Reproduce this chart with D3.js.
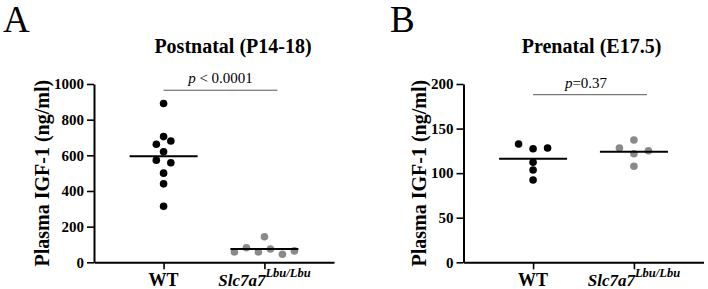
<!DOCTYPE html>
<html>
<head>
<meta charset="utf-8">
<script src="https://cdn.jsdelivr.net/npm/d3@7"></script>
<style>
  body { margin: 0; background: #fff; }
</style>
</head>
<body>
<div id="chart"></div>
<script>
// values (ng/ml)
var groups = ["WT", "Slc7a7"];
var wtPost = [891, 705, 573, 662, 680, 620, 558, 500, 440, 314];
var mutPost = [58, 82, 58, 143, 75, 45, 64];
var wtPre = [132.7, 127.4, 128.2, 112.2, 103.5, 92.3];
var mutPre = [128.2, 137.2, 121.8, 125.2, 107.7];
var postTicks = [0, 200, 400, 600, 800, 1000];
var preTicks = [0, 50, 100, 150, 200];
var pValues = ["< 0.0001", "=0.37"];

var W = 708, H = 289;
var serif = "'Liberation Serif', 'Times New Roman', serif";
var svg = d3.select("#chart").append("svg")
  .attr("width", W)
  .attr("height", H)
  .attr("font-family", serif);

// layout of the two panels
var panels = [
  { letter: "A", letterX: 3, left: 94, title: "Postnatal (P14-18)", titleDx: 139,
    wt: wtPost, mut: mutPost, ticks: postTicks, max: 1000, p: pValues[0], pLine: 965, pDx: 0 },
  { letter: "B", letterX: 390, left: 463.5, title: "Prenatal (E17.5)", titleDx: 128,
    wt: wtPre, mut: mutPre, ticks: preTicks, max: 200, p: pValues[1], pLine: 188, pDx: -4 }
];

var plotW = 240, plotTop = 84, plotBottom = 262.3;
var r = 3.8, rowGap = 7, dotStep = 14.5, rowMax = 60;
var colors = { WT: "#000", Slc7a7: "#8a8a8a" };

// prism-like scatter: points close in y share a row and are spread sideways
function swarm(values, y) {
  var order = d3.range(values.length).sort(function(a, b) { return values[a] - values[b]; });
  var rows = [], row = null;
  order.forEach(function(i) {
    if (row && Math.abs(y(values[i]) - y(values[row[0]])) < rowGap) row.push(i);
    else { row = [i]; rows.push(row); }
  });
  var off = new Array(values.length).fill(0);
  rows.forEach(function(rw) {
    rw.sort(function(a, b) { return a - b; });
    var n = rw.length, s = n > 1 ? Math.min(dotStep, rowMax / (n - 1)) : 0;
    rw.forEach(function(i, k) { off[i] = (k - (n - 1) / 2) * s; });
  });
  return off;
}

panels.forEach(function(p) {
  var g = svg.append("g").attr("transform", "translate(" + p.left + ",0)");

  var y = d3.scaleLinear().domain([0, p.max]).range([plotBottom, plotTop]);
  var x = d3.scalePoint().domain(groups).range([0, plotW]).padding(0.69);

  // panel letter
  svg.append("text")
    .attr("x", p.letterX)
    .attr("y", 32)
    .attr("font-size", "37px")
    .text(p.letter);

  // title
  g.append("text")
    .attr("x", p.titleDx)
    .attr("y", 53)
    .attr("text-anchor", "middle")
    .attr("font-size", "20px")
    .attr("font-weight", "bold")
    .text(p.title);

  // y axis
  var yAxis = g.append("g")
    .call(d3.axisLeft(y).tickValues(p.ticks).tickFormat(d3.format("d"))
      .tickSize(7).tickSizeOuter(0).tickPadding(3));
  yAxis.attr("font-family", serif);
  yAxis.select(".domain").attr("stroke-width", 2);
  yAxis.selectAll(".tick line").attr("stroke-width", 1.6);
  yAxis.selectAll(".tick text")
    .attr("font-size", "15px")
    .attr("font-weight", "bold")
    .attr("fill", "#000");

  // y label, placed left of the tick labels
  var bb = yAxis.node().getBBox();
  g.append("text")
    .attr("transform", "translate(" + (bb.x - 5) + "," + ((plotTop + plotBottom) / 2) + ") rotate(-90)")
    .attr("text-anchor", "middle")
    .attr("font-size", "20px")
    .attr("font-weight", "bold")
    .text("Plasma IGF-1 (ng/ml)");

  // x axis
  var xAxis = g.append("g")
    .attr("transform", "translate(0," + plotBottom + ")")
    .call(d3.axisBottom(x).tickSize(7).tickSizeOuter(0).tickFormat(""));
  xAxis.select(".domain").attr("stroke-width", 2);
  xAxis.selectAll(".tick line").attr("stroke-width", 1.6);

  g.append("text")
    .attr("x", x("WT"))
    .attr("y", 286)
    .attr("text-anchor", "middle")
    .attr("font-size", "18px")
    .attr("font-weight", "bold")
    .text("WT");

  var mutLabel = g.append("text")
    .attr("x", x("Slc7a7"))
    .attr("y", 286)
    .attr("text-anchor", "middle")
    .attr("font-weight", "bold")
    .attr("font-style", "italic");
  mutLabel.append("tspan").attr("font-size", "17px").text("Slc7a7");
  mutLabel.append("tspan").attr("font-size", "12.5px").attr("dy", -9).text("Lbu/Lbu");

  // dots and mean lines
  [["WT", p.wt], ["Slc7a7", p.mut]].forEach(function(grp) {
    var name = grp[0], vals = grp[1];
    var off = swarm(vals, y);
    g.selectAll(null)
      .data(vals)
      .enter()
      .append("circle")
      .attr("cx", function(d, i) { return x(name) + off[i]; })
      .attr("cy", function(d) { return y(d); })
      .attr("r", r)
      .attr("fill", colors[name]);

    var m = d3.mean(vals);
    g.append("line")
      .attr("x1", x(name) - 34)
      .attr("x2", x(name) + 34)
      .attr("y1", y(m))
      .attr("y2", y(m))
      .attr("stroke", "#000")
      .attr("stroke-width", 2);
  });

  // significance bar
  var x1 = x("WT"), x2 = x("Slc7a7") + 13;
  g.append("line")
    .attr("x1", x1).attr("x2", x2)
    .attr("y1", y(p.pLine)).attr("y2", y(p.pLine))
    .attr("stroke", "#555")
    .attr("stroke-width", 1);
  var pt = g.append("text")
    .attr("x", (x1 + x2) / 2 + p.pDx)
    .attr("y", y(p.pLine) - 7)
    .attr("text-anchor", "middle")
    .attr("font-size", "15px");
  pt.append("tspan").attr("font-style", "italic").text("p");
  pt.append("tspan").text(p.p.charAt(0) === "<" ? " " + p.p : p.p);
});
</script>
</body>
</html>
